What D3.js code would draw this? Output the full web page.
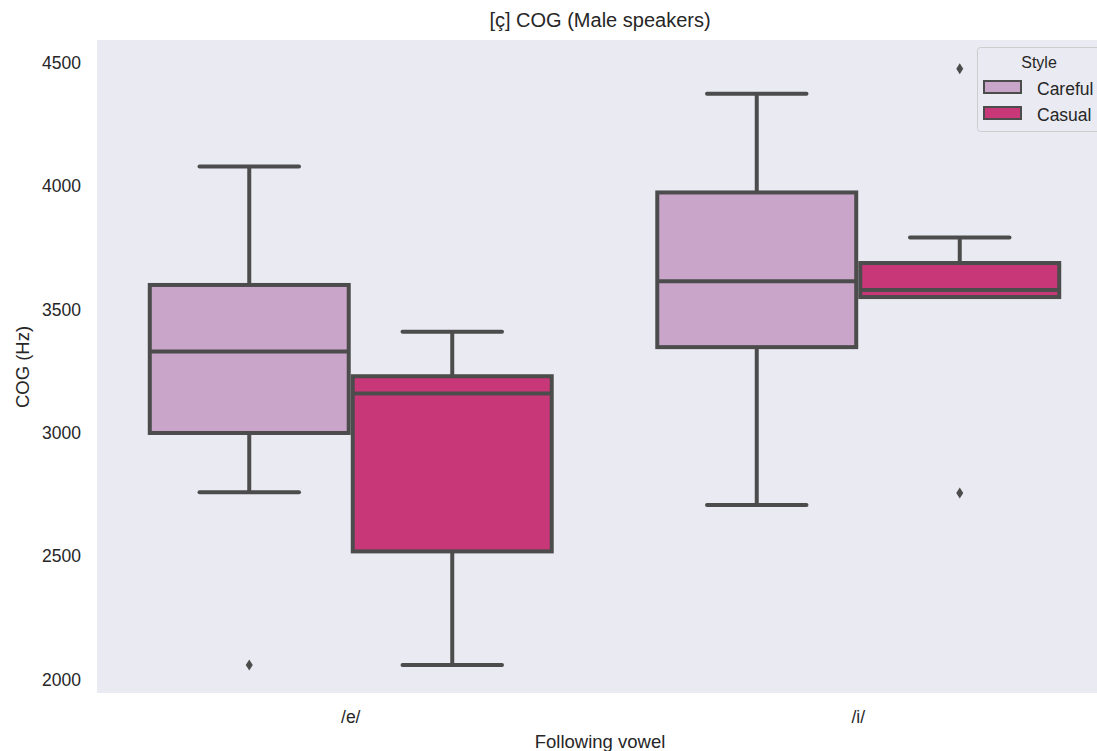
<!DOCTYPE html>
<html>
<head>
<meta charset="utf-8">
<script src="https://cdn.jsdelivr.net/npm/d3@7"></script>
<style>
  html, body { margin: 0; padding: 0; background: #fff; overflow: hidden; }
  svg { display: block; font-family: "Liberation Sans", Arial, sans-serif; }
</style>
</head>
<body>
<svg id="chart" width="1097" height="751"></svg>
<script>
// ---- data ----
const categories = ["/e/", "/i/"];
const styles = ["Careful", "Casual"];
const colors = ["#c9a5c9", "#c83778"];
const yTicks = [2000, 2500, 3000, 3500, 4000, 4500];
// box statistics per category, per style: [whiskerLow, q1, median, q3, whiskerHigh]
const careful = [
  [2760, 3000, 3330, 3600, 4080],
  [2708, 3348, 3615, 3975, 4375]
];
const casual = [
  [2060, 2520, 3160, 3230, 3410],
  [3551, 3551, 3580, 3689, 3792]
];
const carefulOutliers = [[2060], []];
const casualOutliers = [[], [4476, 2757]];

// ---- layout ----
(function () {
const svg = d3.select("#chart");
const pLeft = 97, pRight = 1112, pTop = 40, pBottom = 693;
const x = d3.scaleLinear().domain([-0.5, 1.5]).range([pLeft, pRight]);
const y = d3.scaleLinear().domain([1946, 4593]).range([pBottom, pTop]);
const lineColor = "#4c4c4c";
const textColor = "#262626";
const lw = 4;

svg.append("rect").attr("x", pLeft).attr("y", pTop)
  .attr("width", 1097 - pLeft).attr("height", pBottom - pTop).attr("fill", "#eaeaf2");

const series = [careful, casual];
const outliers = [carefulOutliers, casualOutliers];
const hueWidth = 0.4;
const boxW = hueWidth * 0.98;

categories.forEach((c, ci) => {
  series.forEach((s, si) => {
    const st = s[ci];
    const center = ci - 0.4 + hueWidth * (si + 0.5);
    const cx = x(center);
    const x0 = x(center - boxW / 2), x1 = x(center + boxW / 2);
    const g = svg.append("g");
    g.append("line").attr("x1", cx).attr("x2", cx).attr("y1", y(st[0])).attr("y2", y(st[1]))
      .attr("stroke", lineColor).attr("stroke-width", lw);
    g.append("line").attr("x1", cx).attr("x2", cx).attr("y1", y(st[3])).attr("y2", y(st[4]))
      .attr("stroke", lineColor).attr("stroke-width", lw);
    const capHalf = (x1 - x0) / 4;
    [st[0], st[4]].forEach(v => {
      g.append("line").attr("x1", cx - capHalf).attr("x2", cx + capHalf)
        .attr("y1", y(v)).attr("y2", y(v))
        .attr("stroke", lineColor).attr("stroke-width", lw).attr("stroke-linecap", "round");
    });
    g.append("rect").attr("x", x0).attr("y", y(st[3]))
      .attr("width", x1 - x0).attr("height", y(st[1]) - y(st[3]))
      .attr("fill", colors[si]).attr("stroke", lineColor).attr("stroke-width", lw);
    g.append("line").attr("x1", x0).attr("x2", x1).attr("y1", y(st[2])).attr("y2", y(st[2]))
      .attr("stroke", lineColor).attr("stroke-width", lw);
    outliers[si][ci].forEach(v => {
      const py = y(v);
      g.append("path")
        .attr("d", `M${cx},${py - 5.5} L${cx + 3.5},${py} L${cx},${py + 5.5} L${cx - 3.5},${py} Z`)
        .attr("fill", lineColor);
    });
  });
});

svg.append("g").selectAll("text").data(yTicks).join("text")
  .attr("x", 81).attr("y", d => y(d)).attr("dy", "0.35em")
  .attr("text-anchor", "end").attr("font-size", 17.5).attr("fill", textColor)
  .text(d => d);

svg.append("g").selectAll("text").data(categories).join("text")
  .attr("x", (d, i) => x(i)).attr("y", 723)
  .attr("text-anchor", "middle").attr("font-size", 17.5).attr("fill", textColor)
  .text(d => d);

svg.append("text").attr("x", 600).attr("y", 748).attr("text-anchor", "middle")
  .attr("font-size", 18.5).attr("fill", textColor).text("Following vowel");
svg.append("text").attr("transform", "translate(29,367) rotate(-90)")
  .attr("text-anchor", "middle").attr("font-size", 18.5).attr("fill", textColor).text("COG (Hz)");
svg.append("text").attr("x", 600).attr("y", 27).attr("text-anchor", "middle")
  .attr("font-size", 20).attr("fill", textColor).text("[ç] COG (Male speakers)");

const lg = svg.append("g");
lg.append("rect").attr("x", 977.5).attr("y", 47.5).attr("width", 140).attr("height", 84)
  .attr("rx", 3).attr("fill", "#eaeaf2").attr("stroke", "#cccccc").attr("stroke-width", 1);
lg.append("text").attr("x", 1039).attr("y", 68).attr("text-anchor", "middle")
  .attr("font-size", 16).attr("fill", textColor).text("Style");
styles.forEach((s, i) => {
  const yy = 81 + i * 26;
  lg.append("rect").attr("x", 984).attr("y", yy).attr("width", 37).attr("height", 12)
    .attr("fill", colors[i]).attr("stroke", lineColor).attr("stroke-width", 2);
  lg.append("text").attr("x", 1037).attr("y", yy + 13.5).attr("font-size", 17.5)
    .attr("fill", textColor).text(s);
});
})();
</script>
</body>
</html>
